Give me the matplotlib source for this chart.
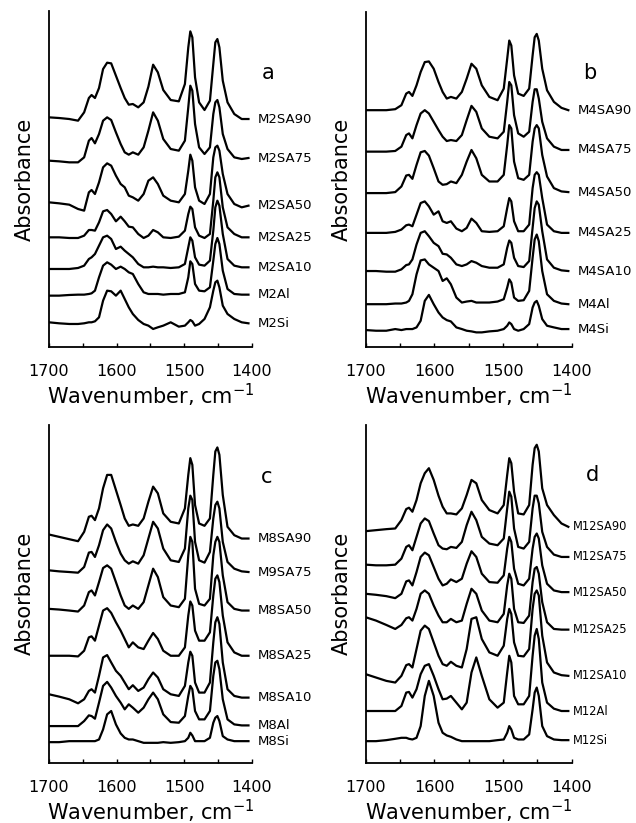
import matplotlib.pyplot as plt
from matplotlib.ticker import MultipleLocator

plt.rcParams['font.family'] = ['DejaVu Sans']

# wavenumber points, cm-1
wavenumber = [1700, 1685, 1670, 1657, 1648, 1641, 1637, 1632, 1626, 1620,
              1614, 1608, 1601, 1594, 1588, 1582, 1576, 1568, 1560, 1553,
              1546, 1539, 1531, 1520, 1508, 1499, 1494, 1491, 1488, 1484,
              1478, 1470, 1462, 1457, 1454, 1451, 1448, 1443, 1436, 1426,
              1415, 1405]

# absorbance (arb. units, stacked as in the figure)
# panel a
m2sa90 = [690, 688, 685, 680, 705, 748, 757, 748, 778, 835,
          854, 852, 815, 778, 748, 728, 730, 720, 735, 782,
          848, 825, 772, 742, 738, 790, 900, 948, 930, 810,
          735, 712, 740, 850, 915, 925, 900, 800, 735, 700, 685, 685]
m2sa75 = [560, 558, 555, 555, 570, 620, 628, 612, 640, 680,
          690, 682, 645, 610, 585, 578, 585, 578, 600, 650,
          705, 680, 625, 595, 590, 620, 720, 785, 770, 670,
          600, 580, 600, 700, 735, 742, 720, 640, 595, 570, 565, 568]
m2sa50 = [435, 432, 428, 415, 410, 465, 472, 460, 495, 540,
          552, 545, 515, 490, 480, 455, 450, 440, 460, 500,
          510, 490, 455, 440, 435, 460, 530, 578, 560, 480,
          440, 430, 460, 570, 600, 605, 590, 520, 460, 430, 420, 425]
m2sa25 = [330, 330, 328, 328, 335, 352, 352, 350, 375, 408,
          412, 400, 378, 392, 378, 362, 360, 340, 328, 335,
          352, 345, 330, 328, 332, 350, 400, 422, 415, 360,
          335, 328, 340, 440, 510, 525, 510, 420, 360, 340, 330, 330]
m2sa10 = [235, 235, 235, 238, 245, 265, 270, 280, 305, 330,
          335, 325, 295, 302, 290, 280, 270, 250, 240, 240,
          242, 240, 240, 238, 240, 250, 300, 330, 320, 270,
          248, 245, 260, 350, 420, 440, 425, 340, 265, 245, 240, 240]
m2al = [155, 155, 157, 158, 158, 160, 162, 170, 210, 245,
        255, 248, 235, 242, 235, 225, 220, 190, 165, 160,
        160, 160, 158, 160, 160, 165, 210, 258, 250, 190,
        170, 168, 180, 260, 310, 328, 310, 230, 175, 160, 158, 158]
m2si = [75, 72, 70, 70, 72, 75, 75, 78, 90, 140,
        170, 168, 155, 170, 145, 120, 100, 82, 70, 65,
        55, 60, 65, 75, 62, 65, 75, 82, 78, 65,
        70, 85, 120, 170, 195, 200, 180, 125, 100, 85, 75, 72]

# panel b
m4sa90 = [715, 715, 715, 718, 730, 765, 770, 758, 790, 830,
          860, 862, 840, 800, 770, 750, 755, 750, 770, 810,
          855, 840, 790, 755, 745, 780, 870, 925, 910, 820,
          765, 758, 780, 880, 935, 945, 925, 840, 775, 740, 722, 715]
m4sa75 = [590, 590, 590, 592, 605, 640, 645, 630, 670, 705,
          715, 705, 680, 655, 635, 622, 625, 622, 640, 685,
          728, 710, 660, 635, 630, 650, 740, 800, 790, 700,
          645, 635, 650, 740, 778, 778, 750, 680, 630, 605, 595, 595]
m4sa50 = [465, 465, 465, 468, 485, 518, 520, 508, 550, 588,
          592, 578, 540, 500, 490, 492, 500, 495, 520, 560,
          595, 570, 520, 500, 500, 520, 610, 670, 660, 560,
          510, 505, 520, 620, 660, 670, 660, 580, 515, 480, 470, 468]
m4sa25 = [345, 345, 345, 348, 355, 368, 370, 365, 400, 435,
          440, 425, 400, 410, 380, 375, 380, 358, 350, 360,
          388, 375, 350, 348, 350, 365, 420, 450, 440, 380,
          350, 350, 370, 480, 520, 528, 520, 450, 370, 350, 345, 345]
m4sa10 = [230, 230, 228, 228, 235, 248, 250, 265, 310, 345,
          350, 335, 315, 305, 282, 280, 270, 250, 245, 250,
          260, 255, 245, 240, 240, 250, 300, 322, 315, 270,
          245, 242, 260, 360, 420, 440, 430, 350, 265, 240, 232, 230]
m4al = [130, 130, 130, 132, 132, 135, 140, 160, 220, 262,
        265, 250, 240, 230, 200, 208, 190, 150, 135, 138,
        140, 135, 135, 135, 138, 145, 180, 205, 195, 150,
        140, 142, 170, 270, 325, 340, 320, 230, 160, 140, 132, 130]
m4si = [52, 50, 50, 55, 52, 55, 55, 55, 60, 80,
        140, 158, 130, 105, 90, 82, 78, 60, 55, 50,
        48, 45, 45, 48, 50, 55, 65, 75, 70, 55,
        50, 55, 70, 120, 135, 140, 125, 85, 65, 60, 55, 55]

# panel c
m8sa90 = [682, 675, 668, 662, 690, 735, 738, 725, 760, 820,
          860, 860, 815, 770, 730, 708, 712, 708, 730, 780,
          825, 805, 745, 720, 715, 760, 860, 910, 890, 770,
          715, 708, 730, 860, 930, 942, 920, 800, 705, 680, 670, 670]
m9sa75 = [575, 572, 570, 568, 585, 628, 630, 615, 650, 695,
          712, 700, 660, 625, 605, 595, 602, 595, 620, 670,
          720, 700, 640, 605, 600, 640, 760, 798, 785, 660,
          605, 598, 630, 730, 770, 780, 760, 660, 600, 580, 572, 570]
m8sa50 = [460, 458, 455, 452, 470, 510, 515, 500, 540, 582,
          590, 580, 540, 500, 470, 460, 470, 460, 480, 530,
          580, 555, 495, 470, 465, 490, 620, 675, 660, 520,
          475, 470, 490, 620, 660, 675, 660, 560, 480, 460, 455, 455]
m8sa25 = [320, 320, 320, 318, 335, 375, 378, 365, 410, 455,
          462, 448, 420, 395, 370, 345, 360, 345, 340, 365,
          388, 370, 335, 320, 320, 345, 440, 482, 470, 395,
          365, 365, 390, 500, 550, 560, 540, 440, 360, 330, 320, 320]
m8sa10 = [205, 198, 190, 178, 190, 215, 220, 210, 260, 315,
          322, 300, 275, 260, 240, 220, 232, 215, 225, 250,
          270, 255, 220, 205, 200, 230, 300, 332, 320, 240,
          210, 210, 240, 360, 420, 435, 415, 300, 220, 200, 195, 195]
m8al = [110, 110, 110, 110, 125, 142, 140, 132, 180, 230,
        242, 225, 200, 180, 160, 175, 165, 150, 165, 190,
        210, 190, 145, 122, 120, 140, 200, 230, 220, 155,
        130, 130, 155, 260, 300, 305, 280, 190, 130, 115, 112, 112]
m8si = [62, 62, 65, 65, 65, 65, 65, 65, 70, 100,
        145, 155, 115, 88, 75, 70, 70, 65, 60, 60,
        60, 60, 62, 60, 62, 65, 75, 90, 82, 65,
        65, 65, 75, 120, 135, 140, 125, 80, 70, 65, 65, 65]

# panel d
m12sa90 = [692, 695, 698, 700, 725, 758, 762, 750, 785, 835,
           865, 880, 845, 798, 765, 745, 745, 742, 760, 800,
           845, 835, 785, 755, 745, 770, 860, 910, 895, 810,
           745, 742, 770, 890, 940, 950, 930, 820, 770, 740, 715, 705]
m12sa75 = [592, 590, 590, 592, 610, 645, 650, 635, 675, 715,
           730, 722, 685, 650, 640, 638, 645, 642, 660, 710,
           750, 725, 675, 655, 650, 670, 760, 810, 795, 700,
           645, 640, 660, 760, 798, 798, 775, 690, 645, 622, 615, 615]
m12sa50 = [505, 502, 498, 492, 505, 542, 545, 530, 570, 615,
           628, 620, 585, 550, 530, 535, 548, 540, 550, 595,
           632, 615, 565, 540, 538, 560, 640, 675, 660, 580,
           535, 530, 550, 640, 675, 685, 670, 590, 535, 515, 510, 510]
m12sa25 = [435, 425, 412, 400, 412, 432, 435, 425, 460, 505,
           515, 505, 470, 440, 420, 420, 430, 420, 425, 475,
           520, 505, 455, 425, 420, 445, 530, 565, 550, 460,
           420, 418, 440, 540, 580, 585, 565, 480, 420, 400, 398, 398]
m12sa10 = [265, 255, 245, 240, 260, 292, 295, 285, 340, 395,
           410, 400, 360, 320, 295, 290, 302, 290, 285, 340,
           430, 435, 370, 330, 320, 350, 430, 460, 445, 360,
           320, 318, 340, 460, 505, 515, 500, 380, 300, 270, 262, 260]
m12al = [155, 155, 155, 155, 170, 210, 212, 195, 220, 265,
         290, 295, 260, 220, 190, 192, 200, 180, 160, 180,
         270, 315, 260, 190, 165, 180, 270, 320, 300, 200,
         175, 175, 200, 320, 380, 400, 370, 240, 180, 162, 155, 155]
m12si = [65, 65, 68, 72, 75, 75, 72, 70, 75, 110,
         200, 245, 200, 120, 90, 82, 78, 70, 65, 65,
         65, 65, 65, 65, 68, 70, 90, 110, 100, 75,
         70, 70, 85, 160, 210, 225, 200, 110, 80, 70, 68, 68]

panels = [
    ('a', [m2sa90, m2sa75, m2sa50, m2sa25, m2sa10, m2al, m2si],
     ['M2SA90', 'M2SA75', 'M2SA50', 'M2SA25', 'M2SA10', 'M2Al', 'M2Si']),
    ('b', [m4sa90, m4sa75, m4sa50, m4sa25, m4sa10, m4al, m4si],
     ['M4SA90', 'M4SA75', 'M4SA50', 'M4SA25', 'M4SA10', 'M4Al', 'M4Si']),
    ('c', [m8sa90, m9sa75, m8sa50, m8sa25, m8sa10, m8al, m8si],
     ['M8SA90', 'M9SA75', 'M8SA50', 'M8SA25', 'M8SA10', 'M8Al', 'M8Si']),
    ('d', [m12sa90, m12sa75, m12sa50, m12sa25, m12sa10, m12al, m12si],
     ['M12SA90', 'M12SA75', 'M12SA50', 'M12SA25', 'M12SA10', 'M12Al', 'M12Si']),
]

# axes boxes [left, bottom, width, height] in figure fractions
boxes = [[0.077, 0.578, 0.319, 0.409],
         [0.575, 0.578, 0.324, 0.407],
         [0.077, 0.073, 0.319, 0.411],
         [0.575, 0.073, 0.324, 0.411]]
letter_pos = [(1.08, 0.815), (1.085, 0.82), (1.075, 0.845), (1.10, 0.85)]
# curve label size/offset: the d labels are longer and must fit the page
label_size = [9.5, 9.5, 9.5, 8.3]
label_offset = [6.5, 6.5, 6.5, 3.5]

fig = plt.figure(figsize=(6.36, 8.23), dpi=100)

for i, (letter, spectra, names) in enumerate(panels):
    ax = fig.add_axes(boxes[i])
    for spec, name in zip(spectra, names):
        ax.plot(wavenumber, spec, color='black', lw=1.6)
        ax.annotate(name, xy=(wavenumber[-1], spec[-1]),
                    xytext=(label_offset[i], 0), textcoords='offset points',
                    va='center', ha='left', fontsize=label_size[i],
                    annotation_clip=False)
    ax.set_xlim(1700, 1400)
    ax.set_ylim(0, 1010)
    ax.spines['top'].set_visible(False)
    ax.spines['right'].set_visible(False)
    ax.spines['left'].set_linewidth(1.3)
    ax.spines['bottom'].set_linewidth(1.3)
    ax.set_yticks([])
    ax.set_xticks([1700, 1600, 1500, 1400])
    ax.xaxis.set_minor_locator(MultipleLocator(50))
    ax.tick_params(axis='x', which='both', direction='in', length=3,
                   width=1, labelsize=11.5, pad=12)
    ax.set_xlabel('Wavenumber, cm$^{-1}$', fontsize=15, labelpad=2)
    ax.set_ylabel('Absorbance', fontsize=15, labelpad=10)
    ax.text(letter_pos[i][0], letter_pos[i][1], letter,
            transform=ax.transAxes, fontsize=15, ha='center', va='center')

fig.savefig('out.png', dpi=100)
